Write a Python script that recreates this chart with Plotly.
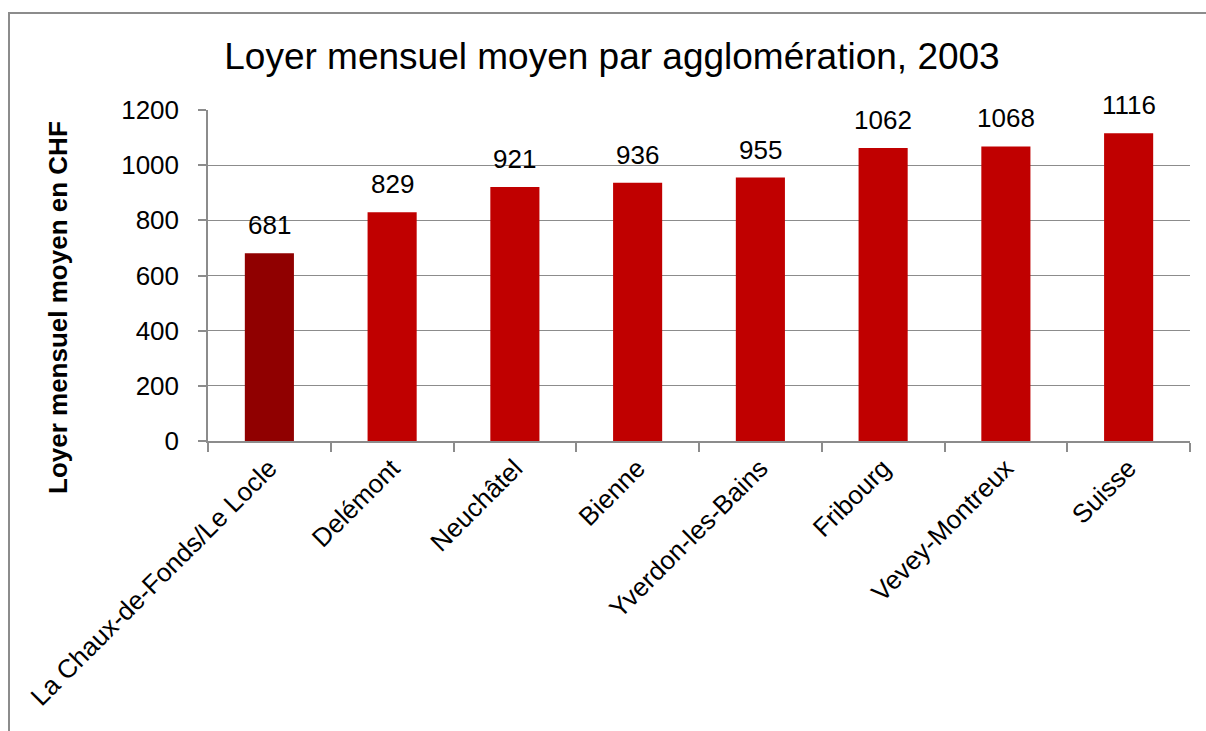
import plotly.graph_objects as go

categories = ["La Chaux-de-Fonds/Le Locle", "Delémont", "Neuchâtel", "Bienne",
              "Yverdon-les-Bains", "Fribourg", "Vevey-Montreux", "Suisse"]
values = [681, 829, 921, 936, 955, 1062, 1068, 1116]
bar_colors = ["#900000"] + ["#C00000"] * 7
y_ticks = [0, 200, 400, 600, 800, 1000, 1200]

FONT = "Liberation Sans, Arial, sans-serif"
GRAY = "#8c8c8c"

# body margin is removed in the page, so figure pixels == page pixels
W, H = 1206, 731
ML, MT = 208, 110
MR = W - 1190
MB = H - 441
pw, ph = W - ML - MR, H - MT - MB


def px_x(x):
    return (x - ML) / pw


def px_y(y):
    return (MT + ph - y) / ph


fig = go.Figure(go.Bar(
    x=categories, y=values, marker=dict(color=bar_colors, line=dict(width=0)),
    hoverinfo="x+y",
))

for c, v in zip(categories, values):
    fig.add_annotation(x=c, y=v, text=str(v), showarrow=False, yanchor="bottom",
                       yshift=11, font=dict(family=FONT, size=26, color="black"))

# y-axis title
fig.add_annotation(xref="paper", yref="paper", x=px_x(58), y=px_y(308),
                   text="<b>Loyer mensuel moyen en CHF</b>", textangle=-90, showarrow=False,
                   xanchor="center", yanchor="middle",
                   font=dict(family=FONT, size=26, color="black"))

# chart frame
fig.add_shape(type="rect", xref="paper", yref="paper",
              x0=px_x(9), x1=px_x(1240),
              y0=px_y(780), y1=px_y(13),
              line=dict(color=GRAY, width=2), fillcolor="rgba(0,0,0,0)", layer="below")

fig.update_layout(
    width=W, height=H,
    margin=dict(l=ML, r=MR, t=MT, b=MB, autoexpand=False),
    paper_bgcolor="white", plot_bgcolor="white",
    bargap=0.6, showlegend=False,
    title=dict(text="Loyer mensuel moyen par agglomération, 2003",
               x=612 / W, xref="container", xanchor="center",
               y=1 - 56 / H, yref="container", yanchor="middle",
               font=dict(family=FONT, size=37, color="black")),
    font=dict(family=FONT, color="black"),
)

fig.update_xaxes(
    type="category", showline=True, linecolor=GRAY, linewidth=1.5,
    ticks="outside", tickson="boundaries", ticklen=9, tickcolor=GRAY, tickwidth=1.5,
    tickangle=-45, tickfont=dict(family=FONT, size=26, color="black"),
    showgrid=False, automargin=False,
)
fig.update_yaxes(
    range=[0, 1200], tickvals=y_ticks, showline=True, linecolor=GRAY, linewidth=1.5,
    ticks="outside", ticklen=8, tickcolor=GRAY, tickwidth=1.5,
    showgrid=True, gridcolor=GRAY, gridwidth=1.2, zeroline=False,
    tickfont=dict(family=FONT, size=26, color="black"),
    ticklabelstandoff=14, automargin=False,
)

fig.write_html(
    "out.html",
    config={"displayModeBar": False},
    post_script="document.body.style.margin='0';document.body.style.overflow='hidden';",
)
